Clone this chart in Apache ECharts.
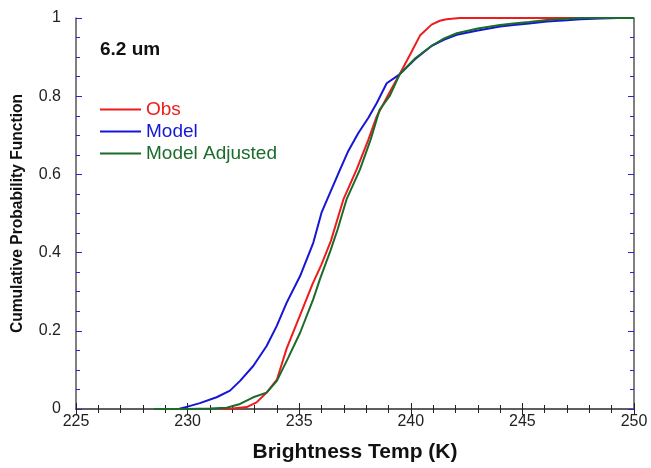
<!DOCTYPE html>
<html>
<head>
<meta charset="utf-8">
<script src="https://cdn.jsdelivr.net/npm/echarts@6/dist/echarts.min.js"></script>
<style>
html,body{margin:0;padding:0;background:#fff;}
#chart{width:651px;height:468px;}
</style>
</head>
<body>
<div id="chart"></div>
<script>
// Data
var obsT = [231.5,232,232.65,233.09,233.54,234.0,234.44,235.04,235.6,236.0,236.42,236.98,237.57,238.1,238.47,239.07,239.5,240,240.41,240.93,241.3,241.6,242.2,247.7];
var obsP = [0,0.001,0.005,0.017,0.042,0.075,0.155,0.24,0.32,0.37,0.43,0.536,0.612,0.689,0.748,0.812,0.856,0.91,0.955,0.983,0.993,0.997,1.0,1.0];

var modelT = [229.6,230.0,230.55,231.3,231.9,232.35,232.94,233.54,233.99,234.44,235.04,235.63,236.0,236.38,236.83,237.2,237.65,238.1,238.47,238.92,239.5,240.2,240.94,241.5,242.06,243,244,244.6,245.3,246.1,247,247.6,248.5,249.3];
var modelP = [0,0.006,0.015,0.03,0.047,0.072,0.11,0.161,0.212,0.272,0.34,0.425,0.502,0.553,0.612,0.66,0.706,0.745,0.782,0.833,0.856,0.895,0.929,0.945,0.957,0.968,0.978,0.982,0.986,0.991,0.994,0.997,0.999,1.0];

var adjT = [228.5,230,231,231.75,232.35,232.94,233.54,234.0,234.5,235.04,235.63,235.93,236.4,236.72,237.12,237.72,238.2,238.6,239.07,239.5,240.2,240.94,241.5,242.06,243,244,244.6,245.3,246.1,247,247.6,250];
var adjP = [0,0,0.001,0.003,0.013,0.03,0.042,0.072,0.13,0.195,0.281,0.332,0.405,0.459,0.536,0.612,0.689,0.765,0.802,0.856,0.897,0.929,0.948,0.961,0.973,0.982,0.986,0.99,0.995,0.998,1.0,1.0];

var seriesNames = ['Obs','Model','Model Adjusted'];
var seriesColors = ['#ee1c1c','#1616d6','#1b6b2b'];
var panelLabel = '6.2 um';
var xTitle = 'Brightness Temp (K)';
var yTitle = 'Cumulative Probability Function';

function zip(a,b){ return a.map(function(v,i){ return [v,b[i]]; }); }

var FONT = '"Liberation Sans", Arial, Helvetica, sans-serif';
var chart = echarts.init(document.getElementById('chart'), null, {renderer:'canvas'});

var axisLine = {show:true, lineStyle:{color:'#555', width:1.5}};
function xAx(pos, labels){
  return {
    type:'value', position:pos, min:225, max:250, interval:5,
    axisLine: axisLine,
    axisTick:{show:true, inside:true, length:6, lineStyle:{color:'#222', width:1}},
    minorTick:{show:true, splitNumber:5, length:4, lineStyle:{color:'#222', width:1}},
    splitLine:{show:false},
    axisLabel:{show:labels, margin:5, fontSize:16, color:'#222', fontFamily:FONT},
    name: labels ? xTitle : '', nameLocation:'middle', nameGap:33,
    nameTextStyle:{fontSize:21, fontWeight:'bold', color:'#111', fontFamily:FONT}
  };
}
function yAx(pos, labels){
  return {
    type:'value', position:pos, min:0, max:1, interval:0.2,
    axisLine: axisLine,
    axisTick:{show:true, inside:true, length:6, lineStyle:{color:'#2424d8', width:1}},
    minorTick:{show:true, splitNumber:4, length:4, lineStyle:{color:'#2424d8', width:1}},
    splitLine:{show:false},
    axisLabel:{show:labels, margin:15, fontSize:16, color:'#222', fontFamily:FONT},
    name: labels ? yTitle : '', nameLocation:'middle', nameGap:50, nameRotate:90,
    nameTextStyle:{fontSize:15.6, fontWeight:'bold', color:'#111', fontFamily:FONT}
  };
}

var option = {
  animation:false,
  backgroundColor:'#fff',
  grid:{left:76, right:17, top:18, bottom:58, containLabel:false},
  title:{text:panelLabel, left:100, top:40, padding:0, textStyle:{fontSize:19, fontWeight:'bold', color:'#111', fontFamily:FONT}},
  legend:{
    orient:'vertical', left:100, top:100, itemGap:3, padding:0,
    icon:'rect', itemWidth:41, itemHeight:2,
    textStyle:{fontSize:19, fontFamily:FONT},
    data: seriesNames.map(function(n,i){ return {name:n, textStyle:{color:seriesColors[i]}}; })
  },
  xAxis:[xAx('bottom', true), xAx('top', false)],
  yAxis:[yAx('left', true), yAx('right', false)],
  series:[
    {name:seriesNames[0], type:'line', showSymbol:false, data:zip(obsT,obsP), lineStyle:{width:2, color:seriesColors[0]}, itemStyle:{color:seriesColors[0]}},
    {name:seriesNames[1], type:'line', showSymbol:false, data:zip(modelT,modelP), lineStyle:{width:2, color:seriesColors[1]}, itemStyle:{color:seriesColors[1]}},
    {name:seriesNames[2], type:'line', showSymbol:false, data:zip(adjT,adjP), lineStyle:{width:2, color:seriesColors[2]}, itemStyle:{color:seriesColors[2]}}
  ]
};
chart.setOption(option);
</script>
</body>
</html>
